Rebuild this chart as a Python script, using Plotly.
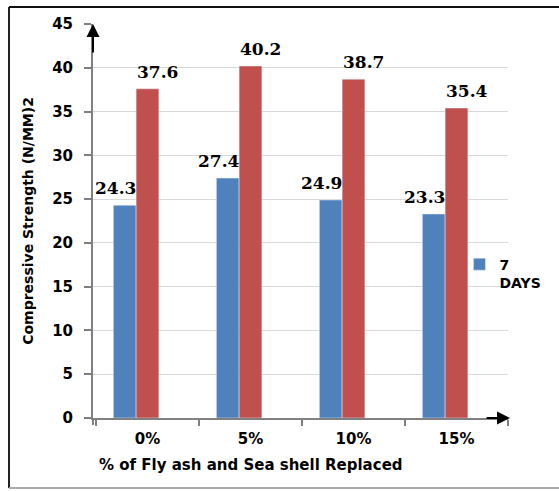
import plotly.graph_objects as go

categories = ["0%", "5%", "10%", "15%"]
days7 = [24.3, 27.4, 24.9, 23.3]
days28 = [37.6, 40.2, 38.7, 35.4]
days_extra = [None, None, None, None]

blue = "#4f81bd"
red = "#c0504d"
sans = "DejaVu Sans"
serif = "DejaVu Serif"

fig = go.Figure()
fig.add_trace(go.Bar(x=categories, y=days7, name="<b>7<br>DAYS</b>", marker_color=blue,
                     showlegend=True))
fig.add_trace(go.Bar(x=categories, y=days28, name="28 DAYS", marker_color=red,
                     showlegend=False))
fig.add_trace(go.Bar(x=categories, y=days_extra, name="", marker_color="#9bbb59",
                     showlegend=False))

annotations = []
for c, v in zip(categories, days7):
    annotations.append(dict(x=c, y=v, xref="x", yref="y", text=f"<b>{v}</b>",
                            showarrow=False, xshift=-32, yshift=17, yanchor="middle",
                            font=dict(family=serif, size=17, color="black")))
for c, v in zip(categories, days28):
    annotations.append(dict(x=c, y=v, xref="x", yref="y", text=f"<b>{v}</b>",
                            showarrow=False, xshift=10, yshift=17, yanchor="middle",
                            font=dict(family=serif, size=17, color="black")))

# axis titles
annotations.append(dict(x=0.381, y=-0.119, xref="paper", yref="paper",
                        text="<b>% of Fly ash and Sea shell Replaced</b>", showarrow=False,
                        xanchor="center", yanchor="middle",
                        font=dict(family=sans, size=15, color="black")))
annotations.append(dict(x=-0.157, y=0.5, xref="paper", yref="paper",
                        text="<b>Compressive Strength (N/MM)2</b>", showarrow=False,
                        textangle=-90, xanchor="center", yanchor="middle",
                        font=dict(family=sans, size=14, color="black")))
# axis arrows
annotations.append(dict(x=0, y=1.0, xref="paper", yref="paper", ax=0, ay=30,
                        showarrow=True, arrowhead=2, arrowsize=1.3, arrowwidth=2,
                        arrowcolor="black", text=""))
annotations.append(dict(x=1.005, y=0, xref="paper", yref="paper", ax=-25, ay=0,
                        showarrow=True, arrowhead=2, arrowsize=1.3, arrowwidth=2,
                        arrowcolor="black", text=""))

shapes = [
    dict(type="line", xref="paper", yref="paper", x0=-0.2024, x1=-0.2024,
         y0=-0.1777, y1=1.0431, line=dict(color="#222", width=2)),
    dict(type="line", xref="paper", yref="paper", x0=-0.2024, x1=1.2,
         y0=1.0431, y1=1.0431, line=dict(color="#111", width=2)),
    dict(type="line", xref="paper", yref="paper", x0=-0.2024, x1=1.2,
         y0=-0.1777, y1=-0.1777, line=dict(color="#aaaaaa", width=2)),
    dict(type="line", xref="paper", yref="paper", x0=0, x1=0,
         y0=-0.018, y1=0, line=dict(color="#808080", width=2)),
]

fig.update_layout(
    width=559, height=491,
    margin=dict(l=93, r=51, t=24, b=73, autoexpand=False),
    paper_bgcolor="white", plot_bgcolor="white",
    barmode="group", bargap=0.337, bargroupgap=0,
    annotations=annotations, shapes=shapes,
    legend=dict(x=0.883, y=0.43, xanchor="left", yanchor="top", valign="top",
                bgcolor="rgba(0,0,0,0)",
                font=dict(family=sans, size=14, color="black")),
    xaxis=dict(type="category", showgrid=False, showline=True, linecolor="#808080",
               linewidth=2, ticks="outside", tickson="boundaries", ticklen=6,
               tickcolor="#808080", tickwidth=2,
               tickfont=dict(family=sans, size=15, color="black"),
               ticklabelstandoff=6),
    yaxis=dict(range=[0, 45], dtick=5, showgrid=True, gridcolor="#d9d9d9",
               gridwidth=1, showline=True, linecolor="#808080", linewidth=2,
               ticks="outside", ticklen=7, tickcolor="#808080", tickwidth=2,
               zeroline=False, tickfont=dict(family=sans, size=15, color="black"),
               ticklabelstandoff=8),
)
fig.update_xaxes(tickprefix="<b>", ticksuffix="</b>")
fig.update_yaxes(tickprefix="<b>", ticksuffix="</b>")

fig.write_html("out.html")
